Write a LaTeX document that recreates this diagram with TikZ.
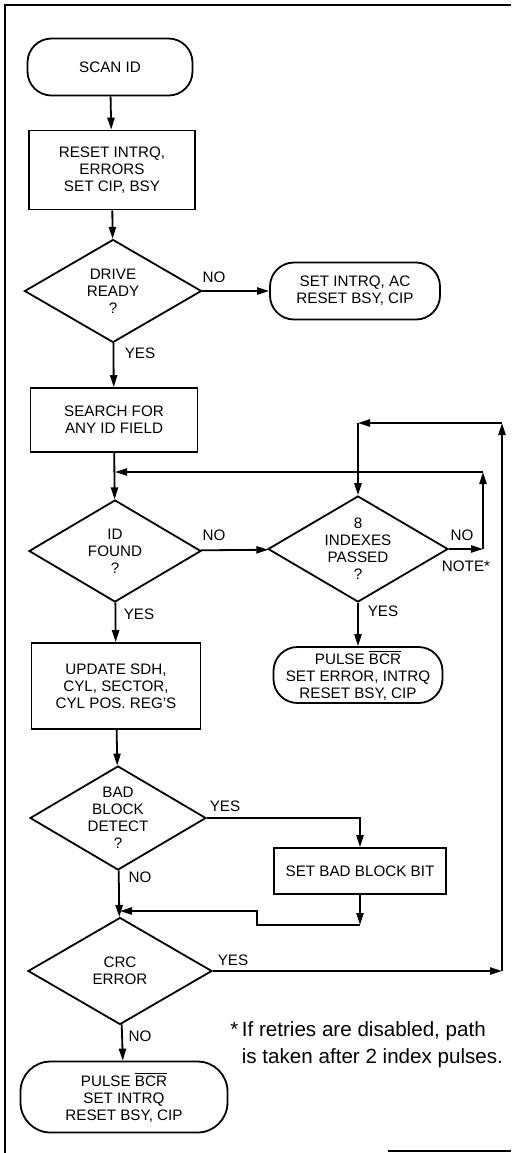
\documentclass[tikz,border=0pt]{standalone}
\usepackage{fontspec}
\setmainfont{Liberation Sans}
\usetikzlibrary{shapes.geometric, arrows.meta, positioning, calc}
\newcommand{\flowfont}{\fontsize{7.6}{8.5}\selectfont}
\newcommand{\bcrbar}{$\overline{\mbox{BCR}}$}
\tikzset{
    term/.style={draw, rectangle, rounded corners=12pt, align=center, font=\flowfont, inner sep=0pt},
    proc/.style={draw, rectangle, align=center, font=\flowfont, inner sep=0pt},
    decision/.style={draw, diamond, inner sep=0pt},
    tag/.style={font=\flowfont, inner sep=1pt},
    note/.style={font=\fontsize{10.3}{13.5}\selectfont, align=left, inner sep=0pt},
    flow/.style={-{Triangle[length=6pt, width=3.6pt]}}
}

\begin{document}
\begin{tikzpicture}[x=0.5pt, y=-0.5pt, line width=0.9pt]
    \useasboundingbox (0,0) rectangle (511,1153);
    \draw (5,1153) -- (5,5) -- (511,5);
    \draw (388,1151) -- (511,1151);

    \node[term, minimum width=82.5pt, minimum height=28.5pt] (scan) at (110,67) {SCAN ID};
    \node[proc, minimum width=83pt, minimum height=39.5pt] (reset) at (112,170) {RESET INTRQ,\\ERRORS\\SET CIP, BSY};
    \node[decision, minimum width=88.5pt, minimum height=51.5pt, label={[tag, align=center]center:DRIVE\\READY\\?}] (drive) at (113,291) {};
    \node[term, minimum width=85pt, minimum height=28.5pt] (notready) at (355,291) {SET INTRQ, AC\\RESET BSY, CIP};
    \node[proc, minimum width=83.5pt, minimum height=32pt] (search) at (114,420) {SEARCH FOR\\ANY ID FIELD};
    \node[decision, minimum width=86pt, minimum height=51pt, label={[tag, align=center]center:ID\\FOUND\\?}] (idfound) at (115,551) {};
    \node[decision, minimum width=90pt, minimum height=53pt, label={[tag, align=center]center:8\\INDEXES\\PASSED\\?}] (indexes) at (358,549) {};
    \node[term, minimum width=84.5pt, minimum height=28pt] (noid) at (358,675) {PULSE \bcrbar\\SET ERROR, INTRQ\\RESET BSY, CIP};
    \node[proc, minimum width=84.5pt, minimum height=43pt] (update) at (116,686) {UPDATE SDH,\\CYL, SECTOR,\\CYL POS. REG’S};
    \node[decision, minimum width=88pt, minimum height=52pt, label={[tag, align=center]center:BAD\\BLOCK\\DETECT\\?}] (badblk) at (118,818) {};
    \node[proc, minimum width=86pt, minimum height=23pt] (setbad) at (360,871) {SET BAD BLOCK BIT};
    \node[decision, minimum width=92pt, minimum height=53.5pt, label={[tag, align=center]center:CRC\\ERROR}] (crc) at (120,971) {};
    \node[term, rounded corners=15pt, minimum width=103.5pt, minimum height=35.5pt] (done) at (124,1097) {PULSE \bcrbar\\SET INTRQ\\RESET BSY, CIP};

    \node[tag] (drno) at (214,277) {NO};
    \node[tag] (dryes) at (140,353) {YES};
    \node[tag] (idno) at (214,535) {NO};
    \node[tag] (idyes) at (139,614) {YES};
    \node[tag] (ixno) at (462,535) {NO};
    \node[tag] (ixnote) at (466,566) {NOTE*};
    \node[tag] (ixyes) at (383,611) {YES};
    \node[tag] (bbyes) at (225,806) {YES};
    \node[tag] (bbno) at (140,877) {NO};
    \node[tag] (crcyes) at (233,960) {YES};
    \node[tag] (crcno) at (140,1036) {NO};
    \node[note, anchor=north west] (footnote) at (241,1021) {\llap{*\,}If retries are disabled, path\\is taken after 2 index pulses.};

    \draw[flow] (scan) -- (reset);
    \draw[flow] (reset) -- (drive);
    \draw[flow] (drive) -- (notready);
    \draw[flow] (drive) -- (search);
    \draw[flow] (search) -- (idfound);
    \draw[flow] (idfound) -- (indexes);
    \draw[flow] (indexes) -- (noid);
    \draw[flow] (idfound) -- (update);
    \draw[flow] (update) -- (badblk);
    \draw[flow] (badblk) -- (crc);
    \draw[flow] (crc) -- (done);

    \coordinate (inner) at (483,472);
    \coordinate (outer) at (502,423);
    \draw[flow] (indexes.east) -- (indexes.east -| inner);
    \draw[flow] (indexes.east -| inner) -- (inner);
    \draw[flow] (inner) -- (idfound.north |- inner);
    \draw[flow] (crc.east) -- (crc.east -| outer);
    \draw[flow] (crc.east -| outer) -- (outer);
    \draw[flow] (outer) -- (indexes.north |- outer);
    \draw[flow] (indexes.north |- outer) -- (indexes.north);

    \coordinate (back) at (257,925);
    \coordinate (back2) at (257,911);
    \draw[flow] (badblk.east) -| (setbad.north);
    \draw[flow] (setbad.south) -- (setbad.south |- back);
    \draw[flow] (setbad.south |- back) -- (back) -- (back2) -- (back2 -| crc.north);
\end{tikzpicture}
\end{document}
